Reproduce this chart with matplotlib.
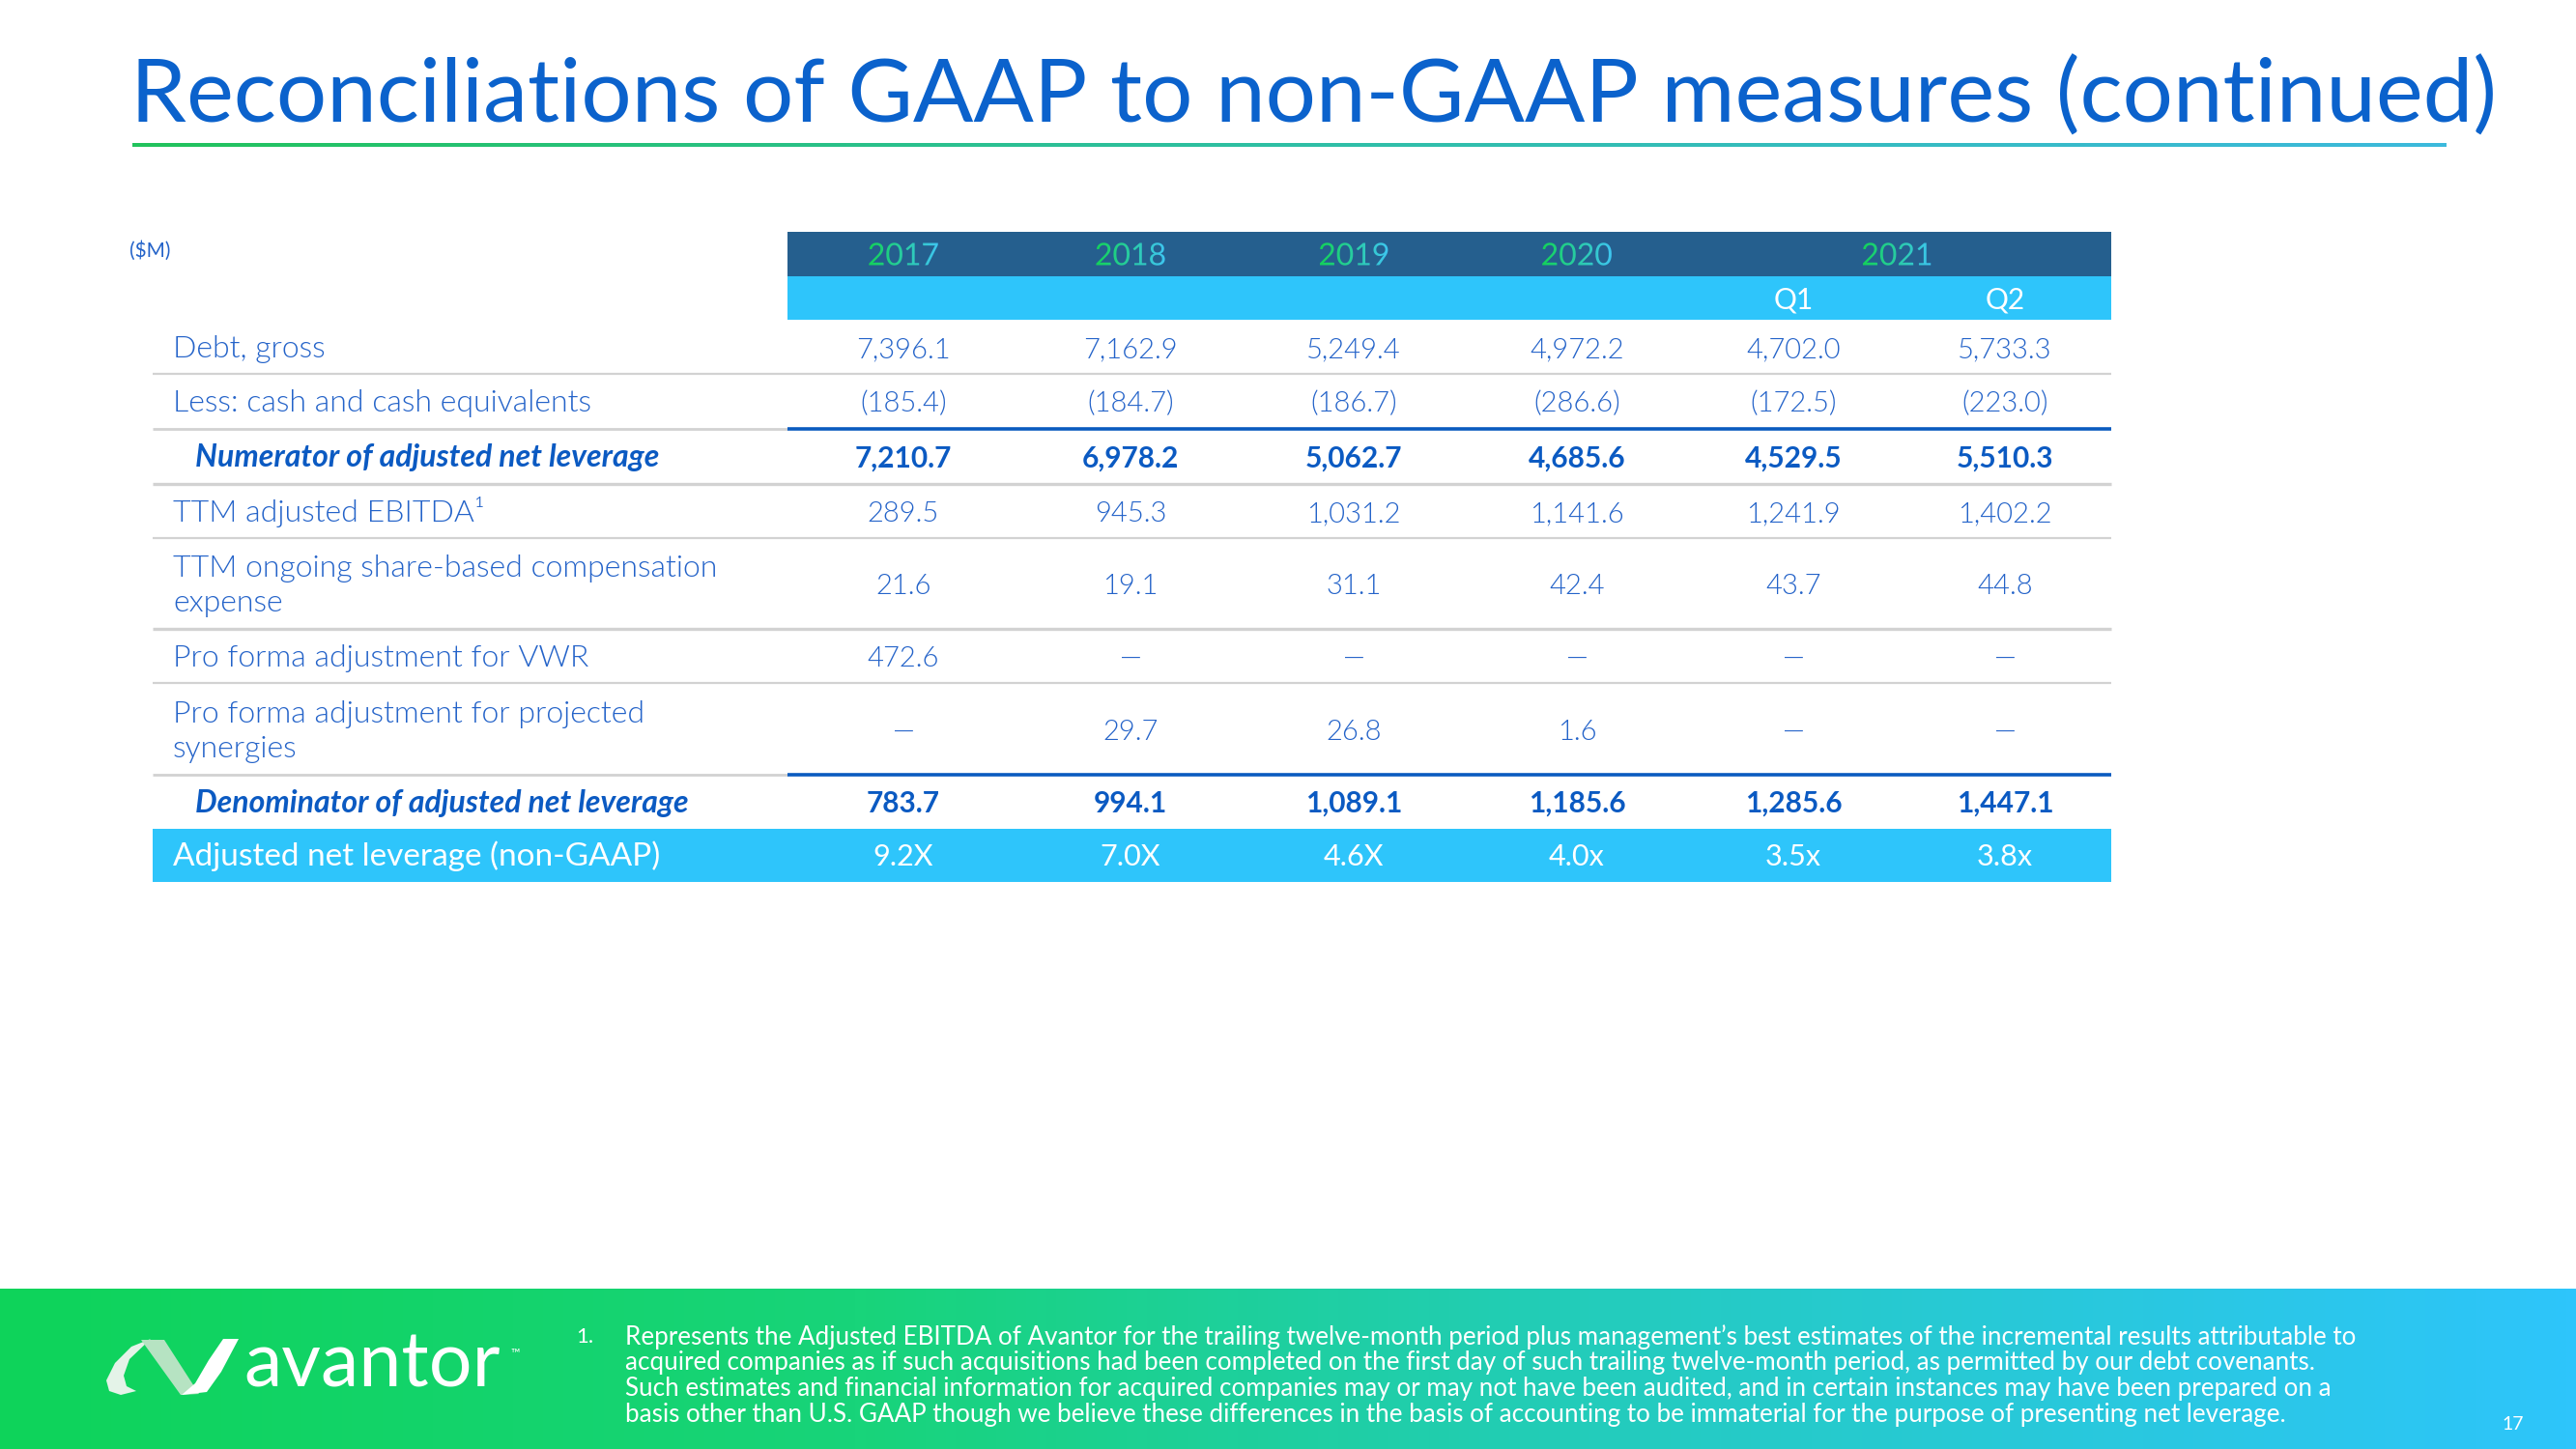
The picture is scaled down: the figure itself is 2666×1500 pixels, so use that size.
"""Avantor slide 17: reconciliation table of GAAP to non-GAAP (adjusted net leverage)."""
import numpy as np
import matplotlib
matplotlib.use("Agg")
import matplotlib.pyplot as plt
from matplotlib.colors import LinearSegmentedColormap
from matplotlib.patches import Rectangle, Polygon, PathPatch
from matplotlib.textpath import TextPath
from matplotlib.font_manager import FontProperties
from matplotlib.transforms import Affine2D

W, H = 2666, 1500
FONT = "Lato"

# ---- data -------------------------------------------------------------
TITLE = "Reconciliations of GAAP to non-GAAP measures (continued)"
UNIT = "($M)"
YEARS = ["2017", "2018", "2019", "2020", "2021"]
QUARTERS = ["", "", "", "", "Q1", "Q2"]

ROW_LABELS = [
    "Debt, gross",
    "Less: cash and cash equivalents",
    "Numerator of adjusted net leverage",
    "TTM adjusted EBITDA\u00b9",
    "TTM ongoing share-based compensation\nexpense",
    "Pro forma adjustment for VWR",
    "Pro forma adjustment for projected\nsynergies",
    "Denominator of adjusted net leverage",
    "Adjusted net leverage (non-GAAP)",
]
ROW_KIND = ["plain", "plain", "sub", "plain", "plain", "plain", "plain", "sub", "total"]

debt_gross = [7396.1, 7162.9, 5249.4, 4972.2, 4702.0, 5733.3]
cash = [-185.4, -184.7, -186.7, -286.6, -172.5, -223.0]
numerator = [7210.7, 6978.2, 5062.7, 4685.6, 4529.5, 5510.3]
ttm_ebitda = [289.5, 945.3, 1031.2, 1141.6, 1241.9, 1402.2]
ttm_sbc = [21.6, 19.1, 31.1, 42.4, 43.7, 44.8]
pf_vwr = [472.6, None, None, None, None, None]
pf_synergies = [None, 29.7, 26.8, 1.6, None, None]
denominator = [783.7, 994.1, 1089.1, 1185.6, 1285.6, 1447.1]
leverage = [9.2, 7.0, 4.6, 4.0, 3.5, 3.8]
leverage_suffix = ["X", "X", "X", "x", "x", "x"]

FOOTNOTE = [
    "Represents the Adjusted EBITDA of Avantor for the trailing twelve-month period plus management\u2019s best estimates of the incremental results attributable to",
    "acquired companies as if such acquisitions had been completed on the first day of such trailing twelve-month period, as permitted by our debt covenants.",
    "Such estimates and financial information for acquired companies may or may not have been audited, and in certain instances may have been prepared on a",
    "basis other than U.S. GAAP though we believe these differences in the basis of accounting to be immaterial for the purpose of presenting net leverage.",
]
PAGE = "17"

# ---- layout (pixels) --------------------------------------------------
COL_X = [935, 1170, 1401, 1632, 1856, 2075]
YEAR_X = [935, 1170, 1401, 1632, 1963]
TAB_L, TAB_R, HEAD_L = 158, 2185, 815
HEAD_TOP, HEAD_MID, HEAD_BOT = 240, 286, 331
ROW_H = [56, 57, 57, 56, 94, 56, 95, 56, 55]

BLUE = "#2463c9"
DARK_BLUE = "#0b5ac2"
GRAY = "#d2d2d2"


def fmt(v):
    if v is None:
        return "\u2014"
    if v < 0:
        return f"({-v:,.1f})"
    return f"{v:,.1f}"


values = [debt_gross, cash, numerator, ttm_ebitda, ttm_sbc, pf_vwr,
          pf_synergies, denominator]
cells = [[fmt(v) for v in row] for row in values]
cells.append([f"{v:.1f}{s}" for v, s in zip(leverage, leverage_suffix)])

fig = plt.figure(figsize=(W / 100, H / 100), dpi=100)
ax = fig.add_axes([0, 0, 1, 1])
ax.axis("off")
renderer = fig.canvas.get_renderer()


def fit(t, width):
    w = t.get_window_extent(renderer).width
    t.set_fontsize(t.get_fontsize() * width / w)


def gradient_text(s, cx, cy, size, c0, c1, weight="normal"):
    prop = FontProperties(family=FONT, weight=weight)
    tp = TextPath((0, 0), s, size=size, prop=prop)
    bb = tp.get_extents()
    tr = (Affine2D().translate(-(bb.x0 + bb.x1) / 2, -(bb.y0 + bb.y1) / 2)
          .scale(1, -1).translate(cx, cy))
    path = tr.transform_path(tp)
    patch = PathPatch(path, facecolor="none", edgecolor="none")
    ax.add_patch(patch)
    ext = path.get_extents()
    cmap = LinearSegmentedColormap.from_list("yr", [c0, c1])
    im = ax.imshow(np.linspace(0, 1, 64).reshape(1, -1), cmap=cmap,
                   extent=[ext.x0, ext.x1, ext.y1, ext.y0], aspect="auto",
                   zorder=4, interpolation="bilinear")
    im.set_clip_path(patch)


# ---- title -------------------------------------------------------------
t = ax.text(135, 127, TITLE, fontsize=60, family=FONT, color="#0b62cc", va="baseline")
fit(t, 2452)
uline = LinearSegmentedColormap.from_list("ul", ["#22c35c", "#2fbfa5", "#3cb9dc"])
ax.imshow(np.linspace(0, 1, 256).reshape(1, -1), cmap=uline,
          extent=[137, 2532, 152, 148], aspect="auto", zorder=2)

ax.text(134, 260, UNIT, fontsize=15, family=FONT, color=BLUE, va="center")

# ---- header bands --------------------------------------------------------
ax.add_patch(Rectangle((HEAD_L, HEAD_TOP), TAB_R - HEAD_L, HEAD_MID - HEAD_TOP,
                       color="#255f8e", lw=0, zorder=1))
ax.add_patch(Rectangle((HEAD_L, HEAD_MID), TAB_R - HEAD_L, HEAD_BOT - HEAD_MID,
                       color="#2ec5fb", lw=0, zorder=1))
for yr, x in zip(YEARS, YEAR_X):
    gradient_text(yr, x, (HEAD_TOP + HEAD_MID) / 2, 32, "#14d25a", "#3ec6f0")
for q, x in zip(QUARTERS, COL_X):
    if q:
        ax.text(x, (HEAD_MID + HEAD_BOT) / 2 + 11, q, fontsize=21.5, family=FONT,
                color="white", ha="center", va="baseline")

# ---- body rows -----------------------------------------------------------
tops = HEAD_BOT + np.concatenate([[0], np.cumsum(ROW_H)])
for i, (label, kind, row) in enumerate(zip(ROW_LABELS, ROW_KIND, cells)):
    top, bot = tops[i], tops[i + 1]
    c = (top + bot) / 2
    if kind == "total":
        ax.add_patch(Rectangle((TAB_L, top), TAB_R - TAB_L, bot - top,
                               color="#2ec5fb", lw=0, zorder=1))
        color, style, weight, lx, fs, vfs = "white", "normal", "normal", 179, 24, 22
    elif kind == "sub":
        color, style, weight, lx, fs, vfs = DARK_BLUE, "italic", "bold", 202, 23, 21.5
    else:
        color, style, weight, lx, fs, vfs = BLUE, "normal", 300, 179, 23, 21

    lines = label.split("\n")
    n = len(lines)
    for k, ln in enumerate(lines):
        yb = c + 11 + (k - (n - 1) / 2) * 36
        ax.text(lx, yb, ln, fontsize=fs, family=FONT, color=color,
                style=style, weight=weight, va="baseline", zorder=3)
    vweight = "bold" if kind == "sub" else ("normal" if kind == "total" else 300)
    for x, s in zip(COL_X, row):
        ax.text(x, c + 11, s, fontsize=vfs, family=FONT, color=color,
                weight=vweight, ha="center", va="baseline", zorder=3)

    # separator under the row
    if kind == "total" or i + 1 >= len(ROW_KIND):
        continue
    if ROW_KIND[i + 1] == "sub":
        ax.plot([TAB_L, HEAD_L], [bot, bot], color=GRAY, lw=2.0, solid_capstyle="butt")
        ax.plot([HEAD_L, TAB_R], [bot, bot], color="#0a5bbf", lw=2.6, solid_capstyle="butt")
    elif ROW_KIND[i + 1] == "total":
        pass
    else:
        lw = 2.4 if kind == "sub" or "\n" in label else 1.6
        ax.plot([TAB_L, TAB_R], [bot, bot], color=GRAY, lw=lw, solid_capstyle="butt")

# ---- footer ---------------------------------------------------------------
foot = LinearSegmentedColormap.from_list("ft", ["#0ed35a", "#18d47a", "#25cbc6", "#2ec5fb"])
ax.imshow(np.linspace(0, 1, 256).reshape(1, -1), cmap=foot,
          extent=[0, W, H, 1334], aspect="auto", zorder=0)

# logo mark: two ribbons
ax.add_patch(Polygon([(156, 1386), (136, 1394), (119, 1411), (110, 1429), (113, 1440),
                      (125, 1444), (141, 1440), (131, 1435), (128, 1424), (134, 1407),
                      (156, 1386)], closed=True, fc="#e4f3e8", ec="none", zorder=3))
ax.add_patch(Polygon([(146, 1387), (170, 1387), (206, 1443), (187, 1444)],
                     closed=True, fc="#b6e3c2", ec="none", zorder=3))
ax.add_patch(Polygon([(188, 1444), (214, 1441), (229, 1420), (247, 1386), (231, 1386),
                      (216, 1408), (202, 1432)], closed=True, fc="white", ec="none", zorder=3))
t = ax.text(252, 1436, "avantor", fontsize=46, family=FONT, color="white", va="baseline")
fit(t, 265)
ax.text(528, 1400, "\u2122", fontsize=9, family=FONT, color="white", va="center")

ax.text(596, 1384, "1.", fontsize=16, family=FONT, color="white", va="center")
ft = [ax.text(647, 1384 + 26.7 * k, ln, fontsize=16, family=FONT, color="white",
              va="center") for k, ln in enumerate(FOOTNOTE)]
w0 = ft[0].get_window_extent(renderer).width
for t in ft:
    t.set_fontsize(16 * 1797 / w0)
ax.text(2601, 1474, PAGE, fontsize=14, family=FONT, color="white", ha="center", va="center")

ax.set_xlim(0, W)
ax.set_ylim(H, 0)
fig.savefig("out.png", dpi=100)
